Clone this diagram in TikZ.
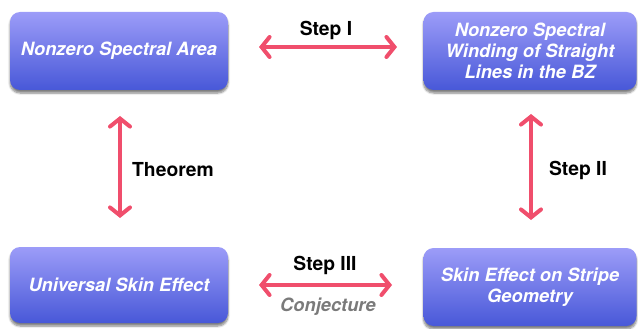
\documentclass[tikz,border=0pt]{standalone}
\usepackage{fontspec}
\setmainfont{TeX Gyre Heros}
\usetikzlibrary{arrows.meta,shadows.blur,shapes.misc}
\definecolor{boxtop}{HTML}{9C9CF8}
\definecolor{boxbot}{HTML}{4858D8}
\definecolor{arr}{HTML}{F04E6C}
\definecolor{conj}{HTML}{7A7A7A}
\tikzset{
  box/.style={rounded corners=10pt, top color=boxtop, bottom color=boxbot, draw=none,
    text=white, font=\fontsize{18.3}{21}\selectfont\bfseries\itshape, align=center,
    inner sep=0pt, blur shadow={shadow xshift=0pt, shadow yshift=-3pt, shadow blur steps=6, shadow opacity=50}},
  link/.style={arr, line width=4pt, {Straight Barb[length=8pt,width=20pt,line cap=round]}-{Straight Barb[length=8pt,width=20pt,line cap=round]}},
  lab/.style={font=\fontsize{19.3}{22}\selectfont\bfseries, text=black},
}
\begin{document}
\begin{tikzpicture}[x=1pt,y=-1pt]
\useasboundingbox (0,0) rectangle (638,329);
\node[box, minimum width=218pt, minimum height=78pt] (a) at (119,51) {Nonzero Spectral Area};
\node[box, minimum width=213pt, minimum height=78pt] (b) at (530,51) {Nonzero Spectral\\Winding of Straight\\Lines in the BZ};
\node[box, minimum width=218pt, minimum height=76pt] (c) at (119,285) {Universal Skin Effect};
\node[box, minimum width=213pt, minimum height=78pt] (d) at (530,287) {Skin Effect on Stripe\\Geometry};
\coordinate (p1) at (259,47); \coordinate (p2) at (397,47);
\coordinate (q1) at (120,116); \coordinate (q2) at (120,218);
\coordinate (r1) at (531,114); \coordinate (r2) at (531,220);
\coordinate (s1) at (259,285); \coordinate (s2) at (392,285);
\draw[link] (p1) -- (p2);
\draw[link] (q1) -- (q2);
\draw[link] (r1) -- (r2);
\draw[link] (s1) -- (s2);
\node[lab] (l1) at (326,30) {Step I};
\node[lab] (l2) at (173,170) {Theorem};
\node[lab] (l3) at (578,170) {Step II};
\node[lab] (l4) at (325,265) {Step III};
\node[font=\fontsize{18.3}{22}\selectfont\bfseries\itshape, text=conj] (l5) at (328,307) {Conjecture};
\end{tikzpicture}
\end{document}
